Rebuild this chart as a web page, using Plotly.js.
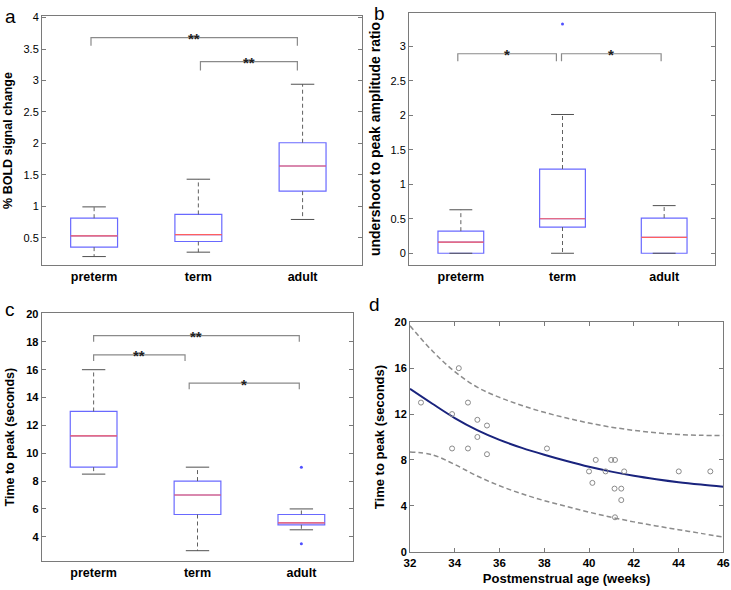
<!DOCTYPE html>
<html><head><meta charset="utf-8">
<script src="https://cdn.plot.ly/plotly-3.0.1.min.js"></script>
<style>html,body{margin:0;padding:0;background:#fff}#chart{width:731px;height:590px}</style>
</head><body><div id="chart"></div>
<script>
// ---------- data ----------
const groups = ['preterm', 'term', 'adult'];
const groupPos = [1, 2, 3];

// panel a: % BOLD signal change
const aLowerWhisker = [0.20, 0.27, 0.79];
const aQ1 = [0.35, 0.44, 1.24];
const aMedian = [0.53, 0.55, 1.64];
const aQ3 = [0.81, 0.87, 2.01];
const aUpperWhisker = [0.99, 1.43, 2.94];
const aOutlierX = [];
const aOutlierY = [];
const aSigFrom = [0.97, 2.02];
const aSigTo = [2.95, 2.95];
const aSigLevel = [3.68, 3.30];
const aSigDrop = [3.55, 3.16];
const aSigLabel = ['**', '**'];

// panel b: undershoot to peak amplitude ratio
const bLowerWhisker = [0.00, 0.00, 0.00];
const bQ1 = [0.00, 0.38, 0.00];
const bMedian = [0.16, 0.50, 0.23];
const bQ3 = [0.32, 1.22, 0.51];
const bUpperWhisker = [0.63, 2.01, 0.69];
const bOutlierX = [2];
const bOutlierY = [3.32];
const bSigFrom = [0.97, 1.99];
const bSigTo = [1.94, 2.97];
const bSigLevel = [2.89, 2.89];
const bSigDrop = [2.78, 2.78];
const bSigLabel = ['*', '*'];

// panel c: time to peak by group
const cLowerWhisker = [8.5, 3.0, 4.5];
const cQ1 = [9.0, 5.6, 4.86];
const cMedian = [11.25, 7.0, 5.0];
const cQ3 = [13.0, 8.0, 5.6];
const cUpperWhisker = [16.0, 9.0, 6.0];
const cOutlierX = [3, 3];
const cOutlierY = [9.0, 3.5];
const cSigFrom = [1.0, 1.0, 1.92];
const cSigTo = [2.98, 1.88, 2.98];
const cSigLevel = [18.45, 17.06, 15.03];
const cSigDrop = [18.0, 16.63, 14.6];
const cSigLabel = ['**', '**', '*'];

// panel d: time to peak vs postmenstrual age
const dAge = [32.49, 33.88, 33.88, 34.18, 34.59, 34.59, 35.01, 35.01, 35.44, 35.44, 38.12,
              40.0, 40.15, 40.3, 40.74, 40.99, 41.16, 41.14, 41.16, 41.44, 41.44, 41.57, 44.01, 45.42];
const dTime = [13, 12, 9, 16, 13, 9, 11.5, 10, 11, 8.5, 9,
               7, 6, 8, 7, 8, 8, 5.5, 3, 5.5, 4.5, 7, 7, 7];
const dCurveAge = [32, 33, 34, 35, 36, 37, 38, 39, 40, 41, 42, 43, 44, 45, 46];
const dFit =   [14.2, 12.9, 11.65, 10.6, 9.75, 9.05, 8.45, 7.9, 7.4, 6.98, 6.62, 6.32, 6.06, 5.85, 5.67];
const dUpper = [19.7, 17.5, 15.7, 14.35, 13.45, 12.75, 12.15, 11.65, 11.22, 10.86, 10.58, 10.37, 10.22, 10.15, 10.13];
const dLower = [8.7, 8.45, 7.6, 6.6, 5.75, 5.05, 4.45, 3.95, 3.45, 3.0, 2.6, 2.25, 1.92, 1.6, 1.27];

// ---------- styling ----------
const FONT = 'Liberation Sans, Arial, sans-serif';
const BOX_BLUE = 'rgb(105,105,255)';
const MED_RED = 'rgb(255,95,95)';
const FRAME = '#7a7a7a';
const BOX_W = 0.45;

function boxPanel(xa, ya, lw, q1, med, q3, uw, ox, oy, sFrom, sTo, sLev, sDrop, sLab) {
  const traces = [];
  const ann = [];
  traces.push({
    type: 'box', xaxis: xa, yaxis: ya, x: groupPos,
    q1: q1, median: med, q3: q3, lowerfence: q1, upperfence: q3,
    width: BOX_W, whiskerwidth: 0, boxpoints: false,
    line: {color: BOX_BLUE, width: 1.2}, fillcolor: 'rgba(0,0,0,0)',
    hoverinfo: 'skip', showlegend: false
  });
  const wx = [], wy = [], cx = [], cy = [], mx = [], my = [];
  groupPos.forEach((p, i) => {
    wx.push(p, p, null, p, p, null);
    wy.push(q3[i], uw[i], null, q1[i], lw[i], null);
    cx.push(p - BOX_W / 4, p + BOX_W / 4, null, p - BOX_W / 4, p + BOX_W / 4, null);
    cy.push(uw[i], uw[i], null, lw[i], lw[i], null);
    mx.push(p - BOX_W / 2, p + BOX_W / 2, null);
    my.push(med[i], med[i], null);
  });
  traces.push({type: 'scatter', mode: 'lines', xaxis: xa, yaxis: ya, x: wx, y: wy,
    line: {color: '#606060', width: 1, dash: '4px,3px'}, hoverinfo: 'skip', showlegend: false});
  traces.push({type: 'scatter', mode: 'lines', xaxis: xa, yaxis: ya, x: cx, y: cy,
    line: {color: '#505050', width: 1}, hoverinfo: 'skip', showlegend: false});
  traces.push({type: 'scatter', mode: 'lines', xaxis: xa, yaxis: ya, x: mx, y: my,
    line: {color: MED_RED, width: 1.2}, hoverinfo: 'skip', showlegend: false});
  if (ox.length) {
    traces.push({type: 'scatter', mode: 'markers', xaxis: xa, yaxis: ya, x: ox, y: oy,
      marker: {color: 'rgb(80,80,255)', size: 3}, hoverinfo: 'skip', showlegend: false});
  }
  const bx = [], by = [];
  sFrom.forEach((f, i) => {
    bx.push(f, f, sTo[i], sTo[i], null);
    by.push(sDrop[i], sLev[i], sLev[i], sDrop[i], null);
    ann.push({xref: xa, yref: ya, x: (f + sTo[i]) / 2, y: sLev[i], text: sLab[i],
      showarrow: false, xanchor: 'center', yanchor: 'middle', yshift: -1,
      font: {family: FONT, size: 15, color: '#222', weight: 'bold'}});
  });
  traces.push({type: 'scatter', mode: 'lines', xaxis: xa, yaxis: ya, x: bx, y: by,
    line: {color: '#8a8a8a', width: 1.2}, hoverinfo: 'skip', showlegend: false});
  return {traces, ann};
}

const pa = boxPanel('x', 'y', aLowerWhisker, aQ1, aMedian, aQ3, aUpperWhisker, aOutlierX, aOutlierY,
  aSigFrom, aSigTo, aSigLevel, aSigDrop, aSigLabel);
const pb = boxPanel('x2', 'y2', bLowerWhisker, bQ1, bMedian, bQ3, bUpperWhisker, bOutlierX, bOutlierY,
  bSigFrom, bSigTo, bSigLevel, bSigDrop, bSigLabel);
const pc = boxPanel('x3', 'y3', cLowerWhisker, cQ1, cMedian, cQ3, cUpperWhisker, cOutlierX, cOutlierY,
  cSigFrom, cSigTo, cSigLevel, cSigDrop, cSigLabel);

const dTraces = [
  {type: 'scatter', mode: 'lines', xaxis: 'x4', yaxis: 'y4', x: dCurveAge, y: dUpper,
   line: {color: '#8c8c8c', width: 1.5, dash: '5px,3px', shape: 'spline'}, hoverinfo: 'skip', showlegend: false},
  {type: 'scatter', mode: 'lines', xaxis: 'x4', yaxis: 'y4', x: dCurveAge, y: dLower,
   line: {color: '#8c8c8c', width: 1.5, dash: '5px,3px', shape: 'spline'}, hoverinfo: 'skip', showlegend: false},
  {type: 'scatter', mode: 'lines', xaxis: 'x4', yaxis: 'y4', x: dCurveAge, y: dFit,
   line: {color: 'rgb(25,35,125)', width: 2, shape: 'spline'}, hoverinfo: 'skip', showlegend: false},
  {type: 'scatter', mode: 'markers', xaxis: 'x4', yaxis: 'y4', x: dAge, y: dTime,
   marker: {symbol: 'circle-open', size: 5, color: '#8a8a8a', line: {width: 1, color: '#8a8a8a'}},
   hoverinfo: 'skip', showlegend: false}
];

function catAxis(domain, range) {
  return {domain, range, tickvals: groupPos, ticktext: groups, ticks: '',
    showline: true, mirror: true, linecolor: FRAME, linewidth: 1, showgrid: false, zeroline: false,
    tickfont: {family: FONT, size: 12.5, color: '#000', weight: 'bold'}, fixedrange: true};
}
function valAxis(domain, range, dtick, titleText, titleSize, tickBold, standoff) {
  return {domain, range, dtick, tick0: 0, ticks: 'inside', ticklen: 4, tickcolor: FRAME,
    showline: true, mirror: 'ticks', linecolor: FRAME, linewidth: 1, showgrid: false, zeroline: false,
    tickfont: {family: FONT, size: 11, color: '#000', weight: tickBold ? 'bold' : 'normal'},
    title: {text: titleText, standoff: standoff, font: {family: FONT, size: titleSize, color: '#000', weight: 'bold'}},
    fixedrange: true};
}

const W = 731, H = 590;
const px = (a, b) => [a / W, b / W];
const py = (top, bottom) => [1 - bottom / H, 1 - top / H];

const layout = {
  width: W, height: H, margin: {l: 0, r: 0, t: 0, b: 0},
  paper_bgcolor: '#fff', plot_bgcolor: '#fff', showlegend: false,
  font: {family: FONT},
  xaxis: catAxis(px(42, 362), [0.5, 3.57]),
  yaxis: Object.assign(valAxis(py(16, 265), [0.066, 4.025], 0.5, '% BOLD signal change', 12.5, false, 8), {anchor: 'x'}),
  xaxis2: Object.assign(catAxis(px(409, 715), [0.49, 3.5]), {anchor: 'y2'}),
  yaxis2: Object.assign(valAxis(py(13, 265), [-0.17, 3.48], 0.5, 'undershoot to peak amplitude ratio', 14, false, 6), {anchor: 'x2'}),
  xaxis3: Object.assign(catAxis(px(41.7, 353.3), [0.5, 3.5]), {anchor: 'y3'}),
  yaxis3: Object.assign(valAxis(py(313.3, 561), [2.26, 20.05], 2, 'Time to peak (seconds)', 12.5, true, 8), {anchor: 'x3'}),
  xaxis4: {domain: px(410, 723.3), range: [32, 46], dtick: 2, ticks: 'inside', ticklen: 4, tickcolor: FRAME,
    showline: true, mirror: 'ticks', linecolor: FRAME, linewidth: 1, showgrid: false, zeroline: false,
    tickfont: {family: FONT, size: 11.5, color: '#000', weight: 'bold'}, anchor: 'y4',
    title: {text: 'Postmenstrual age (weeks)', standoff: 6, font: {family: FONT, size: 13, color: '#000', weight: 'bold'}},
    fixedrange: true},
  yaxis4: Object.assign(valAxis(py(322.3, 551.7), [0, 20], 4, 'Time to peak (seconds)', 13, true, 6), {anchor: 'x4'}),
  annotations: [].concat(pa.ann, pb.ann, pc.ann, [
    {xref: 'paper', yref: 'paper', x: 3 / W, y: 1 - 4 / H, text: 'a', showarrow: false, xanchor: 'left', yanchor: 'top',
     font: {family: FONT, size: 19, color: '#000'}},
    {xref: 'paper', yref: 'paper', x: 372 / W, y: 1 - 1 / H, text: 'b', showarrow: false, xanchor: 'left', yanchor: 'top',
     font: {family: FONT, size: 19, color: '#000'}},
    {xref: 'paper', yref: 'paper', x: 3 / W, y: 1 - 297 / H, text: 'c', showarrow: false, xanchor: 'left', yanchor: 'top',
     font: {family: FONT, size: 19, color: '#000'}},
    {xref: 'paper', yref: 'paper', x: 367 / W, y: 1 - 292 / H, text: 'd', showarrow: false, xanchor: 'left', yanchor: 'top',
     font: {family: FONT, size: 19, color: '#000'}}
  ])
};
layout.xaxis.anchor = 'y';

Plotly.newPlot('chart', [].concat(pa.traces, pb.traces, pc.traces, dTraces), layout,
  {displayModeBar: false, staticPlot: true});
</script></body></html>
